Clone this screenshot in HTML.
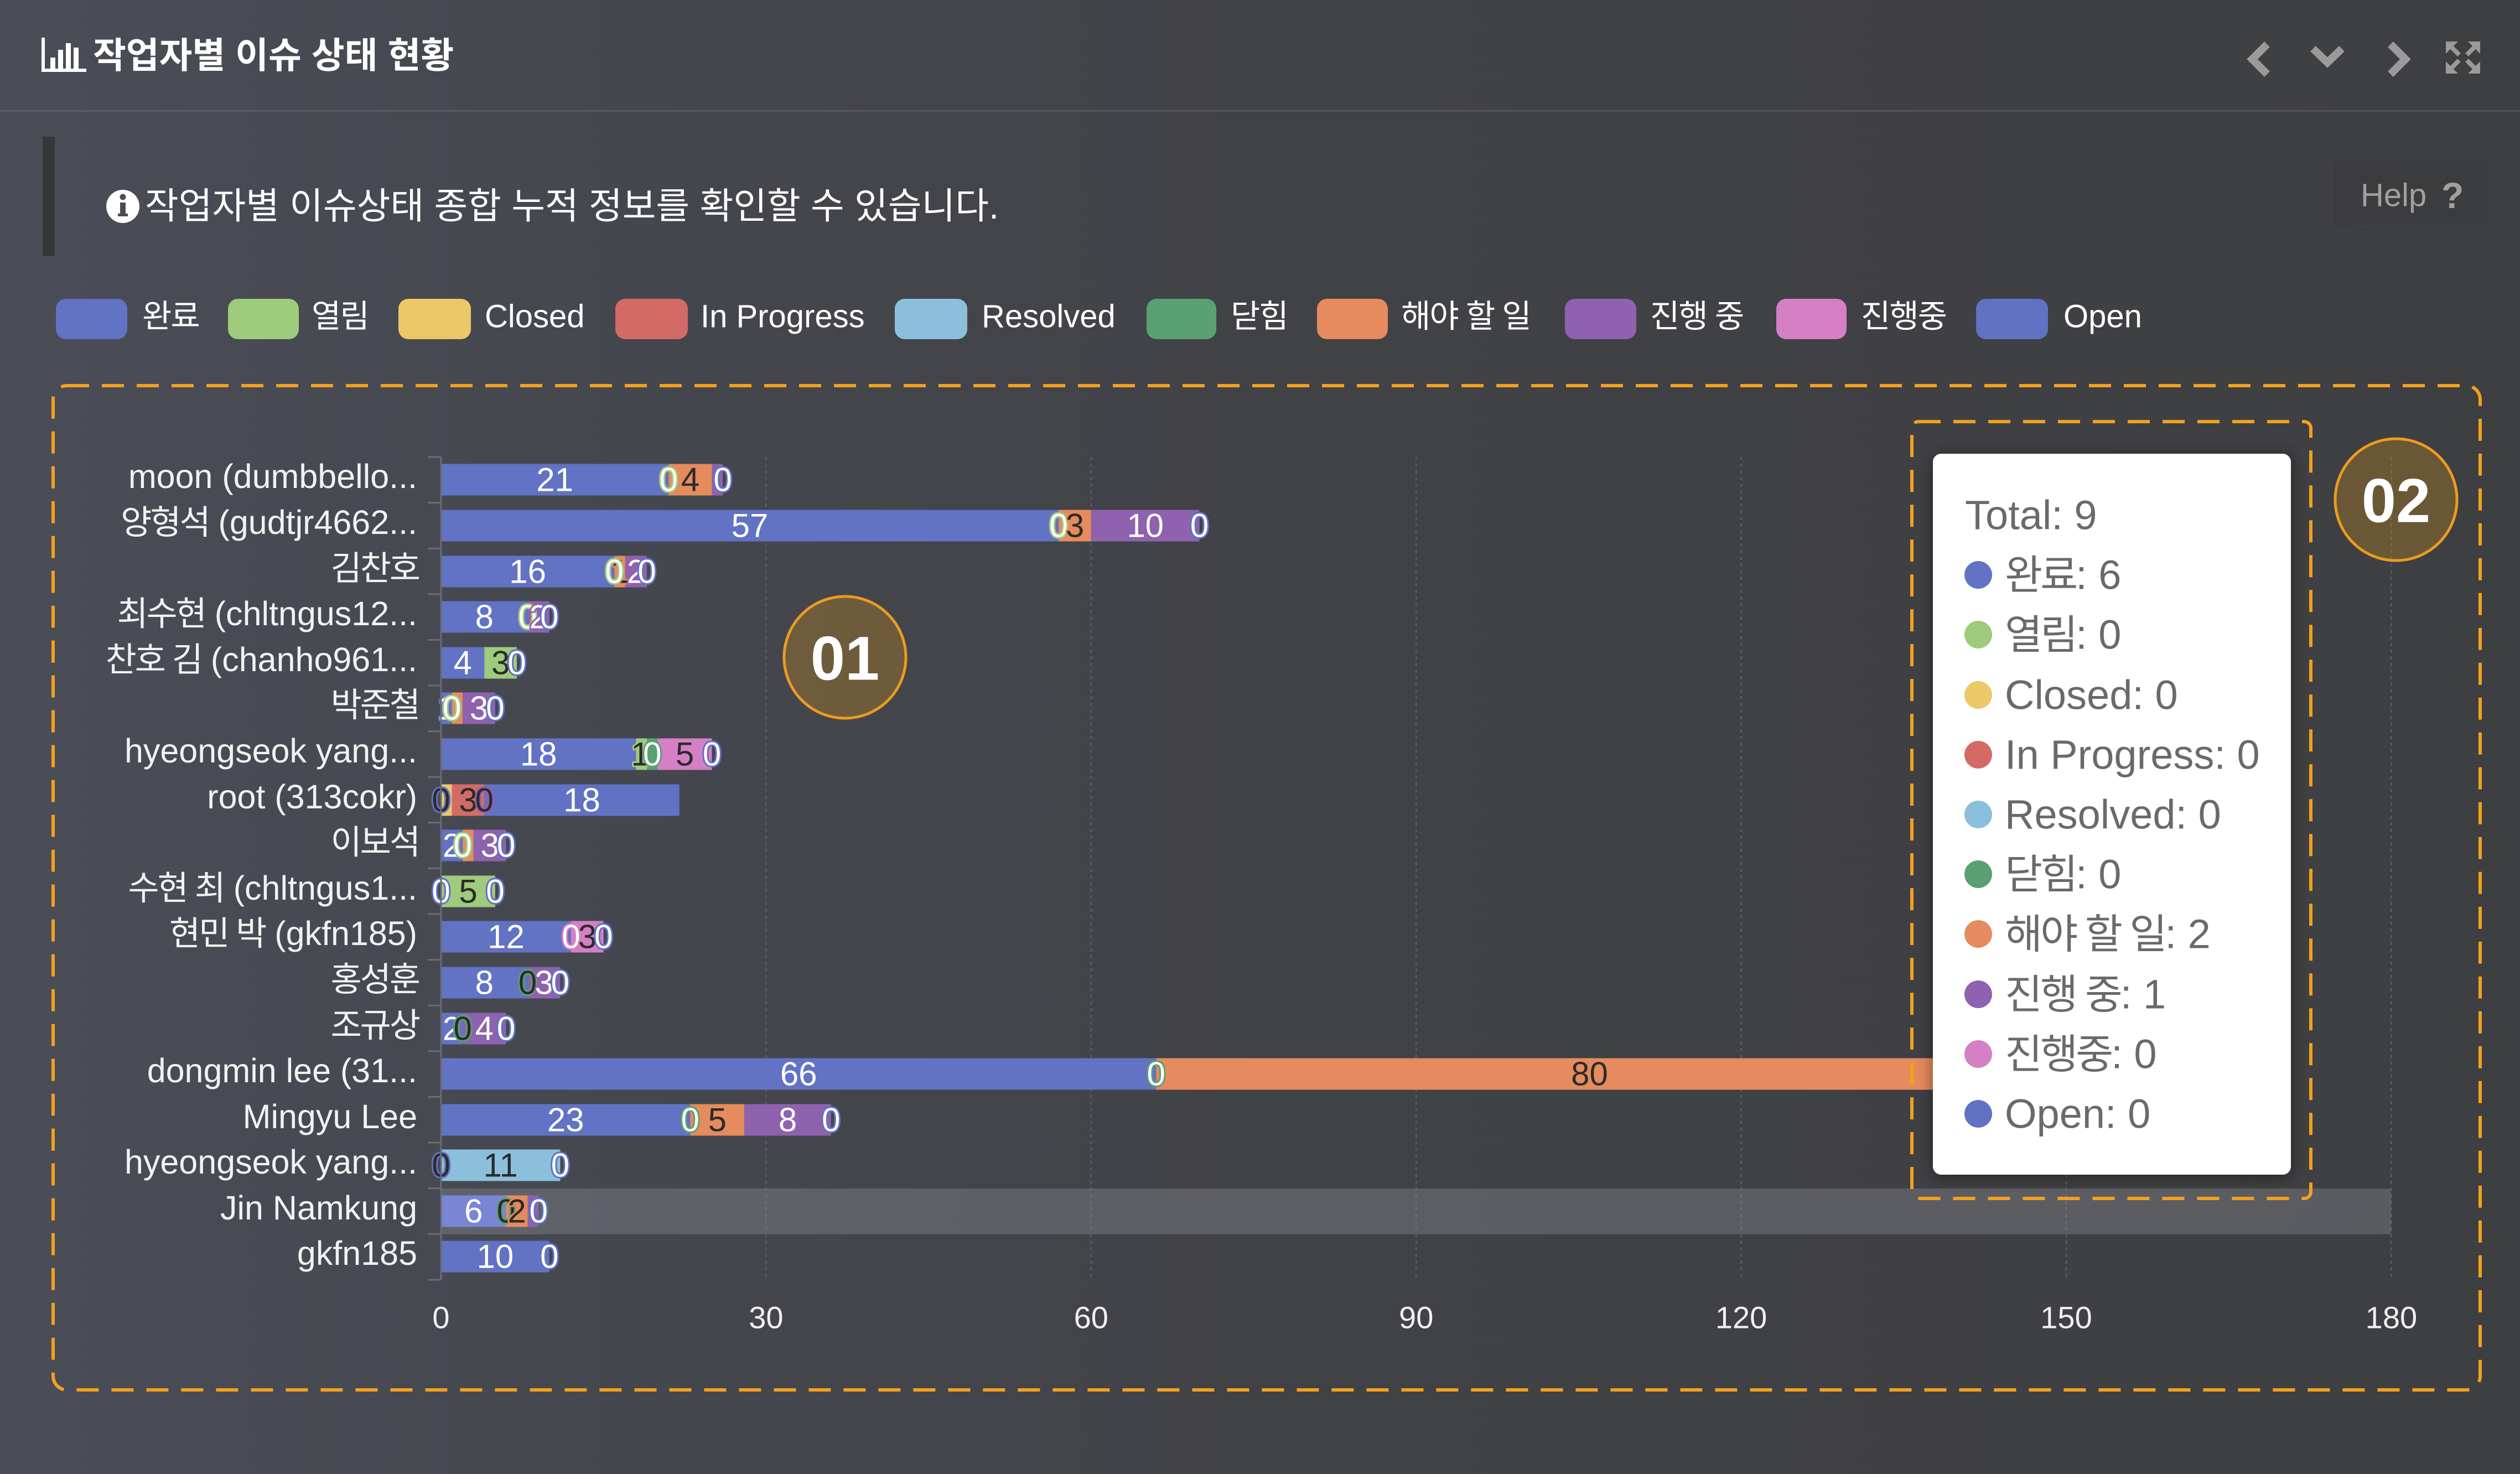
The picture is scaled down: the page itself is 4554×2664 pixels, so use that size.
<!DOCTYPE html>
<html>
<head>
<meta charset="utf-8">
<style>
html,body{margin:0;padding:0;}
body{width:4554px;height:2664px;overflow:hidden;background:linear-gradient(90deg,#4a4d57 0%,#45474e 25%,#414246 50%,#3e3f41 100%);font-family:"Liberation Sans","Noto Sans CJK KR",sans-serif;}
svg{position:absolute;left:0;top:0;}
text{font-family:"Liberation Sans","Noto Sans CJK KR",sans-serif;}
.k{letter-spacing:-2px;}
.kc{letter-spacing:-3px;}
.cat{font-size:61px;fill:#f2f2f2;text-anchor:end;dominant-baseline:central;}
.ax{font-size:56px;fill:#f0f0f0;text-anchor:middle;dominant-baseline:central;}
.lw,.ld{font-size:60px;text-anchor:middle;dominant-baseline:central;paint-order:stroke;stroke-width:6px;stroke-linejoin:round;}
.lw{fill:#ffffff;}
.ld{fill:#2b2b2b;}
.leg{font-size:58px;fill:#ffffff;dominant-baseline:central;}
.tt{font-size:74px;fill:#6a6a6a;dominant-baseline:central;}
.tk{letter-spacing:-4px;}
</style>
</head>
<body>
<svg width="4554" height="2664" viewBox="0 0 4554 2664" xmlns="http://www.w3.org/2000/svg">
<defs>
<filter id="sh" x="-20%" y="-20%" width="140%" height="140%">
<feDropShadow dx="0" dy="4" stdDeviation="14" flood-color="#000" flood-opacity="0.45"/>
</filter>
</defs>

<!-- Header -->
<g fill="#ffffff">
<polyline points="78,68 78,127 156,127" fill="none" stroke="#fff" stroke-width="6"/>
<rect x="91" y="104" width="9" height="20"/>
<rect x="105" y="90" width="9" height="34"/>
<rect x="119" y="78" width="9" height="46"/>
<rect x="133" y="86" width="9" height="38"/>
</g>
<text x="168" y="100" font-size="65" font-weight="bold" fill="#ffffff" dominant-baseline="central">작업자별 이슈 상태 현황</text>

<g fill="none" stroke="#9a9a9a" stroke-width="14">
<polyline points="4097,80 4070,107 4097,134"/>
<polyline points="4180,88 4206,113 4232,88"/>
<polyline points="4320,80 4347,107 4320,134"/>
</g>
<g fill="#9a9a9a" stroke="#9a9a9a">
<polygon points="4420,75 4442,75 4420,97" stroke="none"/>
<line x1="4427" y1="82" x2="4444" y2="99" stroke-width="8"/>
<polygon points="4482,75 4460,75 4482,97" stroke="none"/>
<line x1="4475" y1="82" x2="4458" y2="99" stroke-width="8"/>
<polygon points="4420,133 4442,133 4420,111" stroke="none"/>
<line x1="4427" y1="126" x2="4444" y2="109" stroke-width="8"/>
<polygon points="4482,133 4460,133 4482,111" stroke="none"/>
<line x1="4475" y1="126" x2="4458" y2="109" stroke-width="8"/>
</g>

<rect x="0" y="199" width="4554" height="3" fill="#ffffff" fill-opacity="0.1"/>

<!-- Info -->
<rect x="77" y="247" width="22" height="216" fill="#36373b"/>
<rect x="4216" y="290" width="279" height="117" fill="#000" fill-opacity="0.04" rx="4"/>
<circle cx="222" cy="373" r="30" fill="#ffffff"/>
<rect x="217" y="366" width="10" height="24" fill="#4a4c54"/>
<rect x="213" y="386" width="18" height="5" fill="#4a4c54"/>
<circle cx="222" cy="356" r="5.5" fill="#4a4c54"/>
<text x="262" y="372" font-size="66" fill="#ffffff" dominant-baseline="central">작업자별 이슈상태 종합 누적 정보를 확인할 수 있습니다.</text>
<text x="4266" y="353" font-size="58" fill="#a0a0a0" dominant-baseline="central">Help</text>
<text x="4412" y="353" font-size="66" font-weight="bold" fill="#a0a0a0" dominant-baseline="central">?</text>

<!-- Legend -->
<g>
<rect x="101" y="540" width="129" height="73" rx="18" fill="#6272c4"/>
<text class="leg k" x="257" y="572">완료</text>
<rect x="412" y="540" width="128" height="73" rx="18" fill="#9fcb7c"/>
<text class="leg k" x="563" y="572">열림</text>
<rect x="720" y="540" width="131" height="73" rx="18" fill="#ecc869"/>
<text class="leg" x="876" y="572">Closed</text>
<rect x="1112" y="540" width="131" height="73" rx="18" fill="#d46a66"/>
<text class="leg" x="1266" y="572">In Progress</text>
<rect x="1617" y="540" width="131" height="73" rx="18" fill="#8bc0dc"/>
<text class="leg" x="1774" y="572">Resolved</text>
<rect x="2072" y="540" width="126" height="73" rx="18" fill="#5aa072"/>
<text class="leg k" x="2224" y="572">닫힘</text>
<rect x="2380" y="540" width="128" height="73" rx="18" fill="#e58b5d"/>
<text class="leg k" x="2532" y="572">해야 할 일</text>
<rect x="2828" y="540" width="129" height="73" rx="18" fill="#8e62ae"/>
<text class="leg k" x="2982" y="572">진행 중</text>
<rect x="3210" y="540" width="127" height="73" rx="18" fill="#d580c5"/>
<text class="leg k" x="3363" y="572">진행중</text>
<rect x="3571" y="540" width="130" height="73" rx="18" fill="#6171c3"/>
<text class="leg" x="3729" y="572">Open</text>
</g>

<!-- Grid lines -->
<g stroke="#58595e" stroke-width="3" stroke-dasharray="6 6">
<line x1="1384.4" y1="826" x2="1384.4" y2="2313"/>
<line x1="1971.8" y1="826" x2="1971.8" y2="2313"/>
<line x1="2559.2" y1="826" x2="2559.2" y2="2313"/>
<line x1="3146.6" y1="826" x2="3146.6" y2="2313"/>
<line x1="3734" y1="826" x2="3734" y2="2313"/>
<line x1="4321.4" y1="826" x2="4321.4" y2="2313"/>
</g>

<!-- Hover shadow band -->
<rect x="797" y="2148" width="3524" height="82.6" fill="rgb(150,152,160)" fill-opacity="0.33"/>

<!-- Bars -->
<g>
<rect x="797" y="838.5" width="411.2" height="57" fill="#6272c4"/>
<rect x="1208.2" y="838.5" width="78.3" height="57" fill="#e58b5d"/>
<rect x="1286.5" y="838.5" width="19.6" height="57" fill="#8e62ae"/>
<rect x="797" y="921.5" width="1116.1" height="57" fill="#6272c4"/>
<rect x="1913.1" y="921.5" width="58.7" height="57" fill="#e58b5d"/>
<rect x="1971.8" y="921.5" width="195.8" height="57" fill="#8e62ae"/>
<rect x="797" y="1004.5" width="313.3" height="57" fill="#6272c4"/>
<rect x="1110.3" y="1004.5" width="19.6" height="57" fill="#e58b5d"/>
<rect x="1129.9" y="1004.5" width="39.2" height="57" fill="#8e62ae"/>
<rect x="797" y="1086.5" width="156.6" height="57" fill="#6272c4"/>
<rect x="953.6" y="1086.5" width="39.2" height="57" fill="#8e62ae"/>
<rect x="797" y="1169.5" width="78.3" height="57" fill="#6272c4"/>
<rect x="875.3" y="1169.5" width="58.7" height="57" fill="#9fcb7c"/>
<rect x="797" y="1251.5" width="19.6" height="57" fill="#6272c4"/>
<rect x="816.6" y="1251.5" width="19.6" height="57" fill="#e58b5d"/>
<rect x="836.2" y="1251.5" width="58.7" height="57" fill="#8e62ae"/>
<rect x="797" y="1334.5" width="352.4" height="57" fill="#6272c4"/>
<rect x="1149.4" y="1334.5" width="19.6" height="57" fill="#9fcb7c"/>
<rect x="1169" y="1334.5" width="19.6" height="57" fill="#5aa072"/>
<rect x="1188.6" y="1334.5" width="97.9" height="57" fill="#d580c5"/>
<rect x="797" y="1417.5" width="19.6" height="57" fill="#ecc869"/>
<rect x="816.6" y="1417.5" width="58.7" height="57" fill="#d46a66"/>
<rect x="875.3" y="1417.5" width="352.4" height="57" fill="#6171c3"/>
<rect x="797" y="1499.5" width="39.2" height="57" fill="#6272c4"/>
<rect x="836.2" y="1499.5" width="19.6" height="57" fill="#e58b5d"/>
<rect x="855.8" y="1499.5" width="58.7" height="57" fill="#8e62ae"/>
<rect x="797" y="1582.5" width="97.9" height="57" fill="#9fcb7c"/>
<rect x="797" y="1664.5" width="235" height="57" fill="#6272c4"/>
<rect x="1032" y="1664.5" width="58.7" height="57" fill="#d580c5"/>
<rect x="797" y="1747.5" width="156.6" height="57" fill="#6272c4"/>
<rect x="953.6" y="1747.5" width="58.7" height="57" fill="#8e62ae"/>
<rect x="797" y="1830.5" width="39.2" height="57" fill="#6272c4"/>
<rect x="836.2" y="1830.5" width="78.3" height="57" fill="#8e62ae"/>
<rect x="797" y="1912.5" width="1292.3" height="57" fill="#6272c4"/>
<rect x="2089.3" y="1912.5" width="1566.4" height="57" fill="#e58b5d"/>
<rect x="797" y="1995.5" width="450.3" height="57" fill="#6272c4"/>
<rect x="1247.3" y="1995.5" width="97.9" height="57" fill="#e58b5d"/>
<rect x="1345.2" y="1995.5" width="156.6" height="57" fill="#8e62ae"/>
<rect x="797" y="2077.5" width="215.4" height="57" fill="#8bc0dc"/>
<rect x="797" y="2160.5" width="117.5" height="57" fill="#7886d6"/>
<rect x="914.5" y="2160.5" width="39.2" height="57" fill="#e58b5d"/>
<rect x="953.7" y="2160.5" width="19.6" height="57" fill="#8e62ae"/>
<rect x="797" y="2242.5" width="195.8" height="57" fill="#6272c4"/>
</g>

<!-- Bar labels -->
<g>
<text class="lw" x="1002.6" y="867" stroke="#6272c4">21</text>
<text class="lw" x="1208.2" y="867" stroke="#9fcb7c">0</text>
<text class="ld" x="1247.4" y="867" stroke="#e58b5d">4</text>
<text class="lw" x="1306.1" y="867" stroke="#6171c3">0</text>
<text class="lw" x="1355" y="950" stroke="#6272c4">57</text>
<text class="lw" x="1913.1" y="950" stroke="#9fcb7c">0</text>
<text class="ld" x="1942.5" y="950" stroke="#e58b5d">3</text>
<text class="lw" x="2069.7" y="950" stroke="#8e62ae">10</text>
<text class="lw" x="2167.6" y="950" stroke="#6171c3">0</text>
<text class="lw" x="953.6" y="1033" stroke="#6272c4">16</text>
<text class="ld" x="1120" y="1033" stroke="#e58b5d">1</text>
<text class="lw" x="1110.3" y="1033" stroke="#9fcb7c">0</text>
<text class="lw" x="1149.5" y="1033" stroke="#8e62ae">2</text>
<text class="lw" x="1169.1" y="1033" stroke="#6171c3">0</text>
<text class="lw" x="875.3" y="1115" stroke="#6272c4">8</text>
<text class="lw" x="953.6" y="1115" stroke="#9fcb7c">0</text>
<text class="lw" x="973.2" y="1115" stroke="#8e62ae">2</text>
<text class="lw" x="992.8" y="1115" stroke="#6171c3">0</text>
<text class="lw" x="836.2" y="1198" stroke="#6272c4">4</text>
<text class="ld" x="904.7" y="1198" stroke="#9fcb7c">3</text>
<text class="lw" x="934" y="1198" stroke="#6171c3">0</text>
<text class="lw" x="806.8" y="1280" stroke="#6272c4">1</text>
<text class="lw" x="816.6" y="1280" stroke="#9fcb7c">0</text>
<text class="lw" x="865.6" y="1280" stroke="#8e62ae">3</text>
<text class="lw" x="894.9" y="1280" stroke="#6171c3">0</text>
<text class="lw" x="973.2" y="1363" stroke="#6272c4">18</text>
<text class="ld" x="1157" y="1363" stroke="#9fcb7c">1</text>
<text class="lw" x="1178.8" y="1363" stroke="#5aa072">0</text>
<text class="ld" x="1237.6" y="1363" stroke="#d580c5">5</text>
<text class="lw" x="1286.5" y="1363" stroke="#6171c3">0</text>
<text class="ld" x="797" y="1446" stroke="#6272c4">0</text>
<text class="ld" x="846" y="1446" stroke="#d46a66">3</text>
<text class="ld" x="875.3" y="1446" stroke="#8e62ae">0</text>
<text class="lw" x="1051.5" y="1446" stroke="#6171c3">18</text>
<text class="lw" x="816.6" y="1528" stroke="#6272c4">2</text>
<text class="lw" x="836.2" y="1528" stroke="#9fcb7c">0</text>
<text class="lw" x="885.2" y="1528" stroke="#8e62ae">3</text>
<text class="lw" x="914.5" y="1528" stroke="#6171c3">0</text>
<text class="lw" x="797" y="1611" stroke="#6272c4">0</text>
<text class="ld" x="846" y="1611" stroke="#9fcb7c">5</text>
<text class="lw" x="894.9" y="1611" stroke="#6171c3">0</text>
<text class="lw" x="914.5" y="1693" stroke="#6272c4">12</text>
<text class="lw" x="1032" y="1693" stroke="#d580c5">0</text>
<text class="ld" x="1061.4" y="1693" stroke="#d580c5">3</text>
<text class="lw" x="1090.7" y="1693" stroke="#6171c3">0</text>
<text class="lw" x="875.3" y="1776" stroke="#6272c4">8</text>
<text class="ld" x="953.6" y="1776" stroke="#5aa072">0</text>
<text class="lw" x="983" y="1776" stroke="#8e62ae">3</text>
<text class="lw" x="1012.3" y="1776" stroke="#6171c3">0</text>
<text class="lw" x="816.6" y="1859" stroke="#6272c4">2</text>
<text class="ld" x="836.2" y="1859" stroke="#5aa072">0</text>
<text class="lw" x="875.3" y="1859" stroke="#8e62ae">4</text>
<text class="lw" x="914.5" y="1859" stroke="#6171c3">0</text>
<text class="lw" x="1443.2" y="1941" stroke="#6272c4">66</text>
<text class="lw" x="2089.3" y="1941" stroke="#5aa072">0</text>
<text class="ld" x="2872.5" y="1941" stroke="#e58b5d">80</text>
<text class="lw" x="1022.2" y="2024" stroke="#6272c4">23</text>
<text class="lw" x="1247.3" y="2024" stroke="#5aa072">0</text>
<text class="ld" x="1296.3" y="2024" stroke="#e58b5d">5</text>
<text class="lw" x="1423.5" y="2024" stroke="#8e62ae">8</text>
<text class="lw" x="1501.8" y="2024" stroke="#6171c3">0</text>
<text class="ld" x="797" y="2106" stroke="#6272c4">0</text>
<text class="ld" x="904.7" y="2106" stroke="#8bc0dc">11</text>
<text class="lw" x="1012.4" y="2106" stroke="#6171c3">0</text>
<text class="lw" x="855.8" y="2189" stroke="#7886d6">6</text>
<text class="ld" x="914.5" y="2189" stroke="#5aa072">0</text>
<text class="ld" x="934.1" y="2189" stroke="#e58b5d">2</text>
<text class="lw" x="973.3" y="2189" stroke="#6171c3">0</text>
<text class="lw" x="894.9" y="2271" stroke="#6272c4">10</text>
<text class="lw" x="992.8" y="2271" stroke="#6171c3">0</text>
</g>

<!-- Y axis -->
<g stroke="#6a6c73" stroke-width="3">
<line x1="797" y1="826" x2="797" y2="2313"/>
<line x1="773" y1="826" x2="797" y2="826"/>
<line x1="773" y1="908.6" x2="797" y2="908.6"/>
<line x1="773" y1="991.2" x2="797" y2="991.2"/>
<line x1="773" y1="1073.8" x2="797" y2="1073.8"/>
<line x1="773" y1="1156.4" x2="797" y2="1156.4"/>
<line x1="773" y1="1239" x2="797" y2="1239"/>
<line x1="773" y1="1321.6" x2="797" y2="1321.6"/>
<line x1="773" y1="1404.2" x2="797" y2="1404.2"/>
<line x1="773" y1="1486.8" x2="797" y2="1486.8"/>
<line x1="773" y1="1569.4" x2="797" y2="1569.4"/>
<line x1="773" y1="1652" x2="797" y2="1652"/>
<line x1="773" y1="1734.6" x2="797" y2="1734.6"/>
<line x1="773" y1="1817.2" x2="797" y2="1817.2"/>
<line x1="773" y1="1899.8" x2="797" y2="1899.8"/>
<line x1="773" y1="1982.4" x2="797" y2="1982.4"/>
<line x1="773" y1="2065" x2="797" y2="2065"/>
<line x1="773" y1="2147.6" x2="797" y2="2147.6"/>
<line x1="773" y1="2230.2" x2="797" y2="2230.2"/>
<line x1="773" y1="2313" x2="797" y2="2313"/>
</g>

<!-- Category labels -->
<g>
<text class="cat" x="754" y="861">moon (dumbbello...</text>
<text class="cat" x="754" y="944"><tspan class="kc">양형석</tspan> (gudtjr4662...</text>
<text class="cat kc" x="757" y="1027">김찬호</text>
<text class="cat" x="754" y="1109"><tspan class="kc">최수현</tspan> (chltngus12...</text>
<text class="cat" x="754" y="1192"><tspan class="kc">찬호 김</tspan> (chanho961...</text>
<text class="cat kc" x="757" y="1274">박준철</text>
<text class="cat" x="754" y="1357">hyeongseok yang...</text>
<text class="cat" x="754" y="1440">root (313cokr)</text>
<text class="cat kc" x="757" y="1522">이보석</text>
<text class="cat" x="754" y="1605"><tspan class="kc">수현 최</tspan> (chltngus1...</text>
<text class="cat" x="754" y="1687"><tspan class="kc">현민 박</tspan> (gkfn185)</text>
<text class="cat kc" x="757" y="1770">홍성훈</text>
<text class="cat kc" x="757" y="1853">조규상</text>
<text class="cat" x="754" y="1935">dongmin lee (31...</text>
<text class="cat" x="754" y="2018">Mingyu Lee</text>
<text class="cat" x="754" y="2100">hyeongseok yang...</text>
<text class="cat" x="754" y="2183">Jin Namkung</text>
<text class="cat" x="754" y="2265">gkfn185</text>
</g>

<!-- X axis labels -->
<g>
<text class="ax" x="797" y="2381">0</text>
<text class="ax" x="1384.4" y="2381">30</text>
<text class="ax" x="1971.8" y="2381">60</text>
<text class="ax" x="2559.2" y="2381">90</text>
<text class="ax" x="3146.6" y="2381">120</text>
<text class="ax" x="3734" y="2381">150</text>
<text class="ax" x="4321.4" y="2381">180</text>
</g>

<!-- Marker 01 -->
<circle cx="1527" cy="1188" r="110" fill="rgb(200,140,30)" fill-opacity="0.32" stroke="#eb9c1e" stroke-width="5"/>
<text x="1527" y="1190" font-size="112" font-weight="bold" fill="#ffffff" text-anchor="middle" dominant-baseline="central">01</text>

<!-- Dashed boxes -->
<rect x="96" y="697" width="4386" height="1815" rx="25" fill="none" stroke="#f2a11d" stroke-width="6" stroke-dasharray="40 23"/>
<rect x="3455" y="762" width="721" height="1404" rx="12" fill="none" stroke="#f2a11d" stroke-width="6" stroke-dasharray="40 23"/>

<!-- Tooltip -->
<rect x="3493" y="820" width="647" height="1303" rx="15" fill="#ffffff" filter="url(#sh)"/>
<g>
<text class="tt" x="3551" y="931">Total: 9</text>
<circle cx="3575" cy="1039" r="25" fill="#6272c4"/>
<text class="tt" x="3623" y="1039"><tspan class="tk">완료</tspan>: 6</text>
<circle cx="3575" cy="1147" r="25" fill="#9fcb7c"/>
<text class="tt" x="3623" y="1147"><tspan class="tk">열림</tspan>: 0</text>
<circle cx="3575" cy="1256" r="25" fill="#ecc869"/>
<text class="tt" x="3623" y="1256">Closed: 0</text>
<circle cx="3575" cy="1364" r="25" fill="#d46a66"/>
<text class="tt" x="3623" y="1364">In Progress: 0</text>
<circle cx="3575" cy="1472" r="25" fill="#8bc0dc"/>
<text class="tt" x="3623" y="1472">Resolved: 0</text>
<circle cx="3575" cy="1580" r="25" fill="#5aa072"/>
<text class="tt" x="3623" y="1580"><tspan class="tk">닫힘</tspan>: 0</text>
<circle cx="3575" cy="1688" r="25" fill="#e58b5d"/>
<text class="tt" x="3623" y="1688"><tspan class="tk">해야 할 일</tspan>: 2</text>
<circle cx="3575" cy="1797" r="25" fill="#8e62ae"/>
<text class="tt" x="3623" y="1797"><tspan class="tk">진행 중</tspan>: 1</text>
<circle cx="3575" cy="1905" r="25" fill="#d580c5"/>
<text class="tt" x="3623" y="1905"><tspan class="tk">진행중</tspan>: 0</text>
<circle cx="3575" cy="2013" r="25" fill="#6171c3"/>
<text class="tt" x="3623" y="2013">Open: 0</text>
</g>

<!-- Marker 02 -->
<circle cx="4330" cy="903" r="110" fill="rgb(200,140,30)" fill-opacity="0.32" stroke="#eb9c1e" stroke-width="5"/>
<text x="4330" y="905" font-size="112" font-weight="bold" fill="#ffffff" text-anchor="middle" dominant-baseline="central">02</text>
</svg>
</body>
</html>
